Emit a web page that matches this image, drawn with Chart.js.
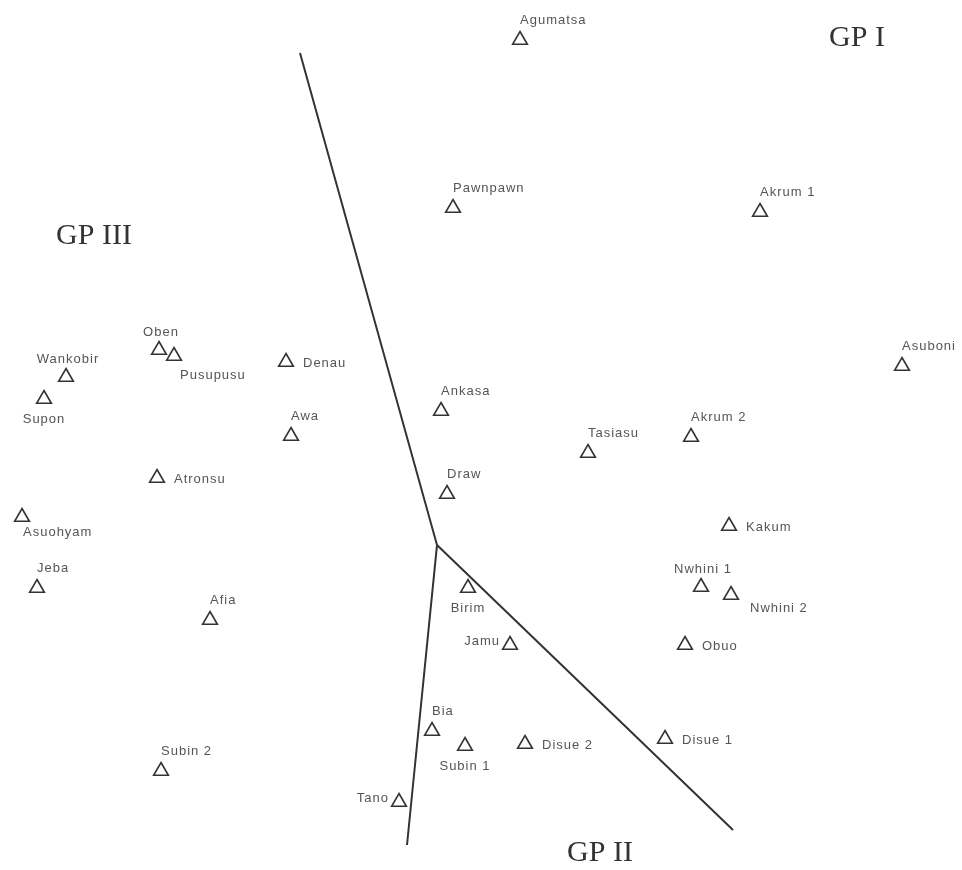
<!DOCTYPE html>
<html>
<head>
<meta charset="utf-8">
<script src="https://cdn.jsdelivr.net/npm/chart.js@4.4.1/dist/chart.umd.min.js"></script>
<style>
  body { margin: 0; background: #fff; }
  canvas { display: block; }
</style>
</head>
<body>
<canvas id="chart" width="962" height="870"></canvas>
<script>
// sites (in picture units)
const sites = ['Agumatsa', 'Pawnpawn', 'Akrum 1', 'Asuboni', 'Akrum 2', 'Tasiasu', 'Ankasa', 'Draw',
    'Kakum', 'Nwhini 1', 'Nwhini 2', 'Obuo', 'Birim', 'Jamu', 'Bia', 'Subin 1', 'Disue 2', 'Disue 1',
    'Tano', 'Subin 2', 'Afia', 'Jeba', 'Asuohyam', 'Atronsu', 'Wankobir', 'Supon', 'Oben', 'Pusupusu',
    'Denau', 'Awa'];
const siteX = [520, 453, 760, 902, 691, 588, 441, 447, 729, 701, 731, 685, 468, 510, 432, 465, 525, 665,
    399, 161, 210, 37, 22, 157, 66, 44, 159, 174, 286, 291];
const siteY = [40, 208, 212, 366, 437, 453, 411, 494, 526, 587, 595, 645, 588, 645, 731, 746, 744, 739,
    802, 771, 620, 588, 517, 478, 377, 399, 350, 356, 362, 436];
// where each label sits relative to its marker
const labelSide = ['n', 'n', 'n', 'n', 'n', 'n', 'n', 'n', 'e', 'nc', 'ese', 'e', 's', 'w', 'n', 's', 'e', 'e',
    'w', 'n', 'n', 'n', 'sw', 'e', 'nc', 's', 'nc', 'se', 'e', 'n'];

// group boundaries
const lineAX = [300, 437, 407];
const lineAY = [53, 545, 845];
const lineBX = [437, 733];
const lineBY = [545, 830];

// group names
const groups = ['GP I', 'GP II', 'GP III'];
const groupX = [857, 600, 94];
const groupY = [38, 853, 236];

const pts = (xs, ys) => xs.map((x, i) => ({ x: x, y: ys[i] }));

const offsets = {
    n:   { dx: 0, dy: -20, align: 'left' },
    nc:  { dx: 2, dy: -18, align: 'center' },
    s:   { dx: 0, dy: 20, align: 'center' },
    se:  { dx: 6, dy: 19, align: 'left' },
    ese: { dx: 19, dy: 13, align: 'left' },
    sw:  { dx: 1, dy: 15, align: 'left' },
    e:   { dx: 17, dy: 1, align: 'left' },
    w:   { dx: -10, dy: -4, align: 'right' }
};

const labelPlugin = {
    id: 'labels',
    afterDatasetsDraw(chart) {
        const c = chart.ctx;
        const meta = chart.getDatasetMeta(0);
        c.save();
        c.font = '13px "Liberation Sans", Arial, sans-serif';
        c.letterSpacing = '1px';
        c.fillStyle = '#555';
        c.textBaseline = 'middle';
        meta.data.forEach((el, i) => {
            const o = offsets[labelSide[i]];
            c.textAlign = o.align;
            c.fillText(sites[i], el.x + o.dx, el.y + o.dy);
        });
        c.letterSpacing = '0px';
        c.font = '30px "Liberation Serif", "Times New Roman", serif';
        c.fillStyle = '#333';
        c.textAlign = 'center';
        groups.forEach((g, i) => {
            c.fillText(g, chart.scales.x.getPixelForValue(groupX[i]), chart.scales.y.getPixelForValue(groupY[i]));
        });
        c.restore();
    }
};

const boundary = (xs, ys) => ({
    type: 'line',
    data: pts(xs, ys),
    borderColor: '#333',
    borderWidth: 2,
    pointRadius: 0,
    showLine: true,
    fill: false,
    tension: 0,
    clip: false
});

new Chart(document.getElementById('chart'), {
    type: 'scatter',
    data: {
        datasets: [{
            label: 'Sites',
            data: pts(siteX, siteY),
            pointStyle: 'triangle',
            pointRadius: 8.5,
            pointHoverRadius: 8.5,
            backgroundColor: 'rgba(0,0,0,0)',
            borderColor: '#333',
            borderWidth: 1.6,
            clip: false
        },
        boundary(lineAX, lineAY),
        boundary(lineBX, lineBY)]
    },
    options: {
        responsive: false,
        animation: false,
        layout: { padding: 0, autoPadding: false },
        plugins: {
            legend: { display: false },
            tooltip: { enabled: false }
        },
        scales: {
            x: { type: 'linear', min: 0, max: 962, display: false },
            y: { type: 'linear', min: 0, max: 870, reverse: true, display: false }
        }
    },
    plugins: [labelPlugin]
});
</script>
</body>
</html>
